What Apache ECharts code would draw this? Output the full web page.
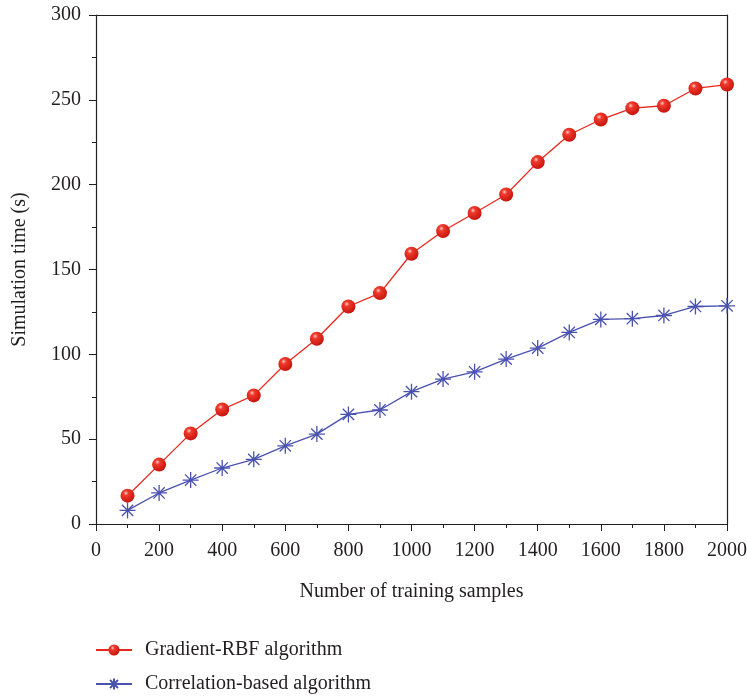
<!DOCTYPE html>
<html>
<head>
<meta charset="utf-8">
<script src="https://cdn.jsdelivr.net/npm/echarts@6/dist/echarts.min.js"></script>
<style>
  html, body { margin: 0; padding: 0; background: #fff; }
  #chart { width: 747px; height: 697px; }
</style>
</head>
<body>
<div id="chart"></div>
<script>
const samples = [100, 200, 300, 400, 500, 600, 700, 800, 900, 1000, 1100, 1200, 1300, 1400, 1500, 1600, 1700, 1800, 1900, 2000];
const gradientRbf = [16.7, 35, 53.4, 67.5, 75.8, 94.3, 109.2, 128.2, 136.1, 159.3, 172.7, 183.3, 194.2, 213.3, 229.4, 238.4, 245.1, 246.5, 256.7, 259];
const correlation = [8, 18.3, 25.9, 33, 38.1, 46.1, 53, 64.6, 67.2, 78, 85.4, 89.7, 97.2, 103.7, 112.9, 120.6, 121, 122.9, 128.2, 128.6];
const seriesNames = ["Gradient-RBF algorithm", "Correlation-based algorithm"];

const font = "Liberation Serif";
const ink = "#231f20";
const star = "path://M0,-10L0,10M-10,0L10,0M-7.07,-7.07L7.07,7.07M-7.07,7.07L7.07,-7.07";

const chart = echarts.init(document.getElementById("chart"));

const ballColor = new echarts.graphic.RadialGradient(0.38, 0.32, 0.7, [
  { offset: 0, color: "#ffd0d0" },
  { offset: 0.25, color: "#f03a2c" },
  { offset: 1, color: "#c4140c" },
]);

// plain numbers, no thousands separator
const plain = (v) => String(v);

chart.setOption({
  animation: false,
  textStyle: { fontFamily: font, color: ink },
  grid: { left: 96, right: 20, top: 15, bottom: 173, outerBoundsMode: "none" },
  legend: {
    left: 95,
    top: 640,
    padding: 0,
    orient: "vertical",
    itemWidth: 36,
    itemHeight: 14,
    itemGap: 14,
    textStyle: { fontFamily: font, fontSize: 20, color: ink, padding: [0, 0, 0, 8] },
    data: seriesNames,
  },
  xAxis: [
    {
      type: "value",
      min: 0,
      max: 2000,
      interval: 200,
      name: "Number of training samples",
      nameLocation: "middle",
      nameGap: 58,
      nameTextStyle: { fontSize: 20, color: ink },
      axisLine: { lineStyle: { color: ink, width: 1.2 } },
      axisTick: { length: 7, lineStyle: { color: ink } },
      minorTick: { show: true, splitNumber: 2, length: 4, lineStyle: { color: ink } },
      axisLabel: { fontSize: 20, color: ink, margin: 17, formatter: plain },
      splitLine: { show: false },
    },
    {
      type: "value",
      position: "top",
      min: 0,
      max: 2000,
      axisLine: { show: true, onZero: false, lineStyle: { color: ink, width: 1.2 } },
      axisTick: { show: false },
      axisLabel: { show: false },
      splitLine: { show: false },
    },
  ],
  yAxis: [
    {
      type: "value",
      min: 0,
      max: 300,
      interval: 50,
      name: "Simulation time (s)",
      nameLocation: "middle",
      nameGap: 66,
      nameTextStyle: { fontSize: 20, color: ink },
      axisLine: { show: true, lineStyle: { color: ink, width: 1.2 } },
      axisTick: { length: 7, lineStyle: { color: ink } },
      minorTick: { show: true, splitNumber: 2, length: 4, lineStyle: { color: ink } },
      axisLabel: { fontSize: 20, color: ink, margin: 15, formatter: plain },
      splitLine: { show: false },
    },
    {
      type: "value",
      position: "right",
      min: 0,
      max: 300,
      axisLine: { show: true, onZero: false, lineStyle: { color: ink, width: 1.2 } },
      axisTick: { show: false },
      axisLabel: { show: false },
      splitLine: { show: false },
    },
  ],
  series: [
    {
      name: seriesNames[0],
      type: "line",
      data: samples.map((x, i) => [x, gradientRbf[i]]),
      symbol: "circle",
      symbolSize: 14,
      lineStyle: { color: "#e8281e", width: 1.3 },
      itemStyle: { color: ballColor, borderWidth: 0 },
      z: 3,
    },
    {
      name: seriesNames[1],
      type: "line",
      data: samples.map((x, i) => [x, correlation[i]]),
      symbol: star,
      symbolSize: 16,
      lineStyle: { color: "#4a52b0", width: 1.3 },
      itemStyle: { color: "#4a52b0", borderColor: "#4a52b0", borderWidth: 1.3 },
      z: 2,
    },
  ],
});
</script>
</body>
</html>
